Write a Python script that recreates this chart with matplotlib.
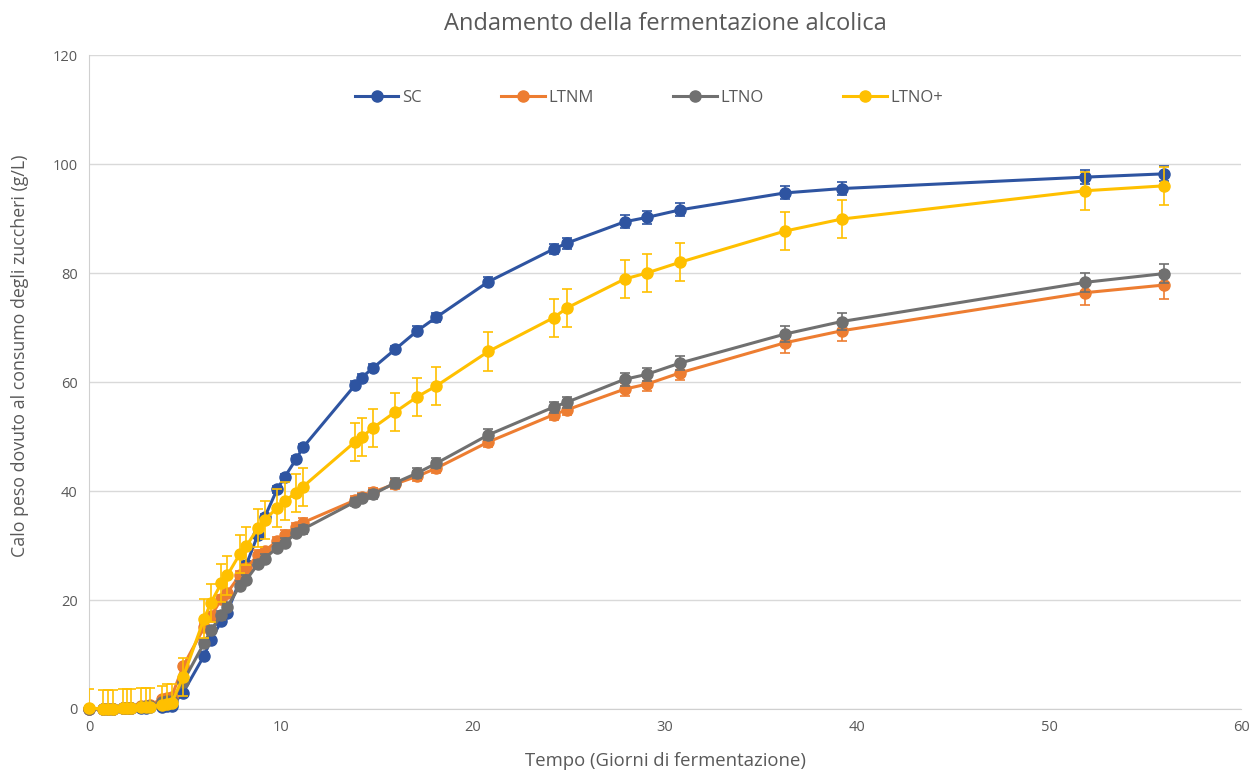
import matplotlib
matplotlib.use("Agg")
import matplotlib.pyplot as plt
from matplotlib.lines import Line2D

# ---- data ----
days = [0, 0.75, 1.0, 1.25, 1.75, 2.0, 2.2, 2.7, 2.95, 3.2, 3.8, 4.05, 4.3, 4.9,
        6.0, 6.35, 6.9, 7.2, 7.85, 8.2, 8.8, 9.15, 9.8, 10.2, 10.8, 11.15,
        13.85, 14.2, 14.8, 15.95, 17.1, 18.1, 20.8, 24.2, 24.9, 27.9, 29.05, 30.8,
        36.25, 39.2, 51.9, 56.0]

sc = [0, 0, 0, 0, 0.1, 0.1, 0.1, 0.2, 0.2, 0.3, 0.4, 0.5, 0.5, 3.0,
      9.8, 12.7, 16.1, 17.7, 23.5, 26.5, 32.0, 35.2, 40.3, 42.6, 45.9, 48.0,
      59.4, 60.8, 62.6, 66.0, 69.4, 71.9, 78.4, 84.4, 85.5, 89.4, 90.2, 91.6,
      94.7, 95.5, 97.6, 98.2]
sc_err = [0.3] * 14 + [0.6] * 12 + [0.7, 0.7, 0.7, 0.7, 0.8, 0.8, 0.8, 1.0, 1.0, 1.2, 1.2, 1.2,
                                    1.2, 1.2, 1.3, 1.4]

ltnm = [0, 0, 0, 0, 0.1, 0.2, 0.2, 0.5, 0.6, 0.8, 1.8, 2.0, 2.2, 7.8,
        15.0, 17.0, 20.2, 21.3, 24.5, 25.8, 28.3, 29.0, 30.8, 32.0, 33.4, 34.2,
        38.3, 38.9, 39.8, 41.3, 42.7, 44.2, 49.0, 54.0, 54.9, 58.7, 59.6, 61.7,
        67.2, 69.4, 76.4, 77.8]
ltnm_err = [0.4] * 14 + [0.8] * 12 + [0.8, 0.8, 0.8, 0.9, 0.9, 0.9, 1.0, 1.0, 1.0, 1.2, 1.3, 1.3,
                                      1.8, 1.8, 2.3, 2.6]

ltno = [0, 0, 0, 0, 0.1, 0.1, 0.1, 0.4, 0.5, 0.6, 1.2, 1.4, 1.5, 5.0,
        12.1, 14.5, 17.2, 18.7, 22.6, 23.7, 26.6, 27.6, 29.6, 30.5, 32.3, 33.0,
        38.0, 38.7, 39.4, 41.5, 43.3, 45.1, 50.3, 55.4, 56.3, 60.5, 61.4, 63.5,
        68.8, 71.1, 78.3, 79.9]
ltno_err = [0.4] * 14 + [0.8] * 12 + [0.8, 0.8, 0.8, 0.9, 0.9, 0.9, 1.0, 1.0, 1.0, 1.2, 1.2, 1.3,
                                      1.5, 1.6, 1.7, 1.8]

ltnop = [0.2, 0, 0, 0, 0.1, 0.2, 0.2, 0.3, 0.3, 0.4, 0.8, 1.0, 1.1, 5.8,
         16.6, 19.5, 23.1, 24.5, 28.4, 29.9, 33.2, 34.7, 36.9, 38.2, 39.7, 40.8,
         49.0, 49.9, 51.6, 54.5, 57.3, 59.3, 65.6, 71.8, 73.6, 78.9, 80.0, 82.0,
         87.7, 89.9, 95.1, 96.0]
ltnop_err = [3.5] * 42

labels = ["SC", "LTNM", "LTNO", "LTNO+"]
colors = ["#2E54A1", "#ED7D31", "#707070", "#FFC000"]
series = [sc, ltnm, ltno, ltnop]
errors = [sc_err, ltnm_err, ltno_err, ltnop_err]

plt.rcParams['font.family'] = ['Open Sans', 'DejaVu Sans']
txt = "#595959"

fig = plt.figure(figsize=(12.58, 7.73), dpi=100)
ax = fig.add_axes([0.0707, 0.0828, 0.9158, 0.846])

handles = []
for i, (lab, col, y, e) in enumerate(zip(labels, colors, series, errors)):
    line, caps, bars = ax.errorbar(days, y, yerr=e, color=col, lw=2.2,
                                   marker='o', ms=8, mec=col, mfc=col,
                                   ecolor=col, elinewidth=1.2, capsize=3.6,
                                   capthick=1.2, zorder=3 + i)
    line.set_clip_on(False)
    handles.append(Line2D([], [], color=col, lw=2.2, marker='o', ms=8,
                          mec=col, mfc=col, label=lab))

ax.set_xlim(0, 60)
ax.set_ylim(0, 120)
ax.set_xticks(range(0, 61, 10))
ax.set_yticks(range(0, 121, 20))
ax.yaxis.grid(True, color="#D9D9D9", lw=1.0)
ax.set_axisbelow(True)
for s in ["top", "right"]:
    ax.spines[s].set_visible(False)
ax.spines["left"].set_color("#D0D0D0")
ax.spines["bottom"].set_color("#D0D0D0")
ax.tick_params(length=0, labelsize=10.5, labelcolor=txt, pad=8)

ax.set_title("Andamento della fermentazione alcolica", fontsize=17, color=txt, pad=18)
ax.set_xlabel("Tempo (Giorni di fermentazione)", fontsize=13.3, color=txt, labelpad=12)
ax.set_ylabel("Calo peso dovuto al consumo degli zuccheri (g/L)", fontsize=12.8,
              color=txt)
ax.yaxis.set_label_coords(-0.052, 0.54)

leg = ax.legend(handles=handles, loc="center", bbox_to_anchor=(0.486, 0.934), ncol=4,
                frameon=False, fontsize=12, handlelength=2.6, handletextpad=0.2,
                columnspacing=4.8, labelcolor=txt)

fig.savefig("out.png", dpi=100)
